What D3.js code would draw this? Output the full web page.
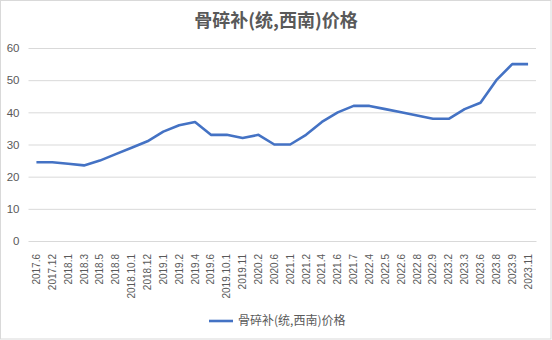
<!DOCTYPE html>
<html>
<head>
<meta charset="utf-8">
<script src="https://cdn.jsdelivr.net/npm/d3@7"></script>
<style>
  html, body { margin: 0; padding: 0; background: #fff; }
  svg { display: block; }
</style>
</head>
<body>
<svg id="chart" width="552" height="340"></svg>
<script>
// Price series for 骨碎补 (统, 西南)
const categories = [
  "2017.6", "2017.12", "2018.1", "2018.3", "2018.5", "2018.8", "2018.10.1", "2018.12",
  "2019.1", "2019.2", "2019.4", "2019.6", "2019.10.1", "2019.11", "2020.2", "2020.6",
  "2021.1", "2021.2", "2021.4", "2021.6", "2021.7", "2022.4", "2022.5", "2022.6",
  "2022.8", "2022.9", "2023.2", "2023.3", "2023.6", "2023.8", "2023.9", "2023.11"
];
const prices = [
  24.5, 24.5, 24, 23.5, 25, 27, 29, 31,
  34, 36, 37, 33, 33, 32, 33, 30,
  30, 33, 37, 40, 42, 42, 41, 40,
  39, 38, 38, 41, 43, 50, 55, 55
];
const yTicks = [0, 10, 20, 30, 40, 50, 60];
const seriesName = "骨碎补(统,西南)价格";
const chartTitle = "骨碎补(统,西南)价格";

const W = 552, H = 340;
const margin = { left: 28.5, right: 16, top: 48, bottom: 99 };
const svg = d3.select("#chart");

const cjk = "'Noto Sans CJK SC', 'Noto Sans', sans-serif";
const num = "'Liberation Sans', 'Noto Sans', sans-serif";
const grey = "#595959";

// chart frame
svg.append("rect")
  .attr("x", 0.5).attr("y", 0.5)
  .attr("width", W - 1.5).attr("height", H - 1.5)
  .attr("fill", "#fff").attr("stroke", "#d9d9d9");

const x = d3.scaleBand()
  .domain(categories)
  .range([margin.left, W - margin.right])
  .paddingInner(0).paddingOuter(0);

const y = d3.scaleLinear()
  .domain([0, 60])
  .range([H - margin.bottom, margin.top]);

// horizontal gridlines
const yAxis = d3.axisLeft(y)
  .tickValues(yTicks)
  .tickSize(-(W - margin.right - margin.left))
  .tickPadding(9);
const gy = svg.append("g")
  .attr("transform", `translate(${margin.left},0)`)
  .call(yAxis);
gy.select(".domain").remove();
gy.selectAll(".tick line").attr("stroke", "#d9d9d9").attr("stroke-width", 1);
gy.selectAll(".tick text")
  .attr("fill", grey)
  .style("font-family", num)
  .style("font-size", "11.5px");

// category labels, rotated
const xAxis = d3.axisBottom(x).tickSize(0).tickPadding(0);
const gx = svg.append("g")
  .attr("transform", `translate(0,${y(0)})`)
  .call(xAxis);
gx.select(".domain").attr("stroke", "#d9d9d9");
gx.selectAll(".tick text")
  .attr("fill", grey)
  .style("font-family", num)
  .style("font-size", "10px")
  .attr("text-anchor", "end")
  .attr("dy", "0.35em")
  .attr("y", 0)
  .attr("transform", "translate(0,13) rotate(-90)");

// price line
const line = d3.line()
  .x((d, i) => x(categories[i]) + x.bandwidth() / 2)
  .y(d => y(d));

svg.append("path")
  .datum(prices)
  .attr("d", line)
  .attr("fill", "none")
  .attr("stroke", "#4472C4")
  .attr("stroke-width", 2.6)
  .attr("stroke-linejoin", "round")
  .attr("stroke-linecap", "butt");

// title
svg.append("text")
  .attr("x", W / 2).attr("y", 27)
  .attr("text-anchor", "middle")
  .attr("fill", grey)
  .style("font-family", cjk)
  .style("font-size", "18px")
  .style("font-weight", "bold")
  .text(chartTitle);

// legend
const lg = svg.append("g").attr("transform", "translate(209,321)");
lg.append("line")
  .attr("x1", 0).attr("x2", 24)
  .attr("y1", 0).attr("y2", 0)
  .attr("stroke", "#4472C4").attr("stroke-width", 2.6);
lg.append("text")
  .attr("x", 29).attr("y", 0).attr("dy", "0.35em")
  .attr("fill", grey)
  .style("font-family", cjk)
  .style("font-size", "12px")
  .text(seriesName);
</script>
</body>
</html>
